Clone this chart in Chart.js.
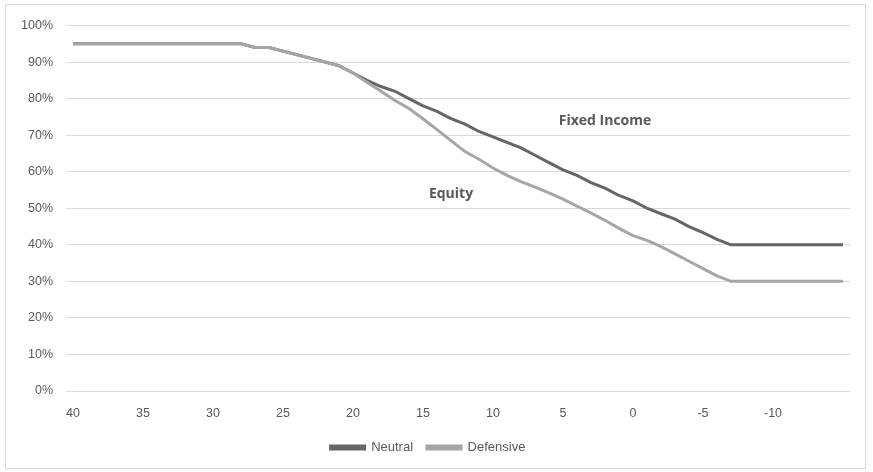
<!DOCTYPE html>
<html>
<head>
<meta charset="utf-8">
<script src="https://cdn.jsdelivr.net/npm/chart.js@4.4.1/dist/chart.umd.min.js"></script>
<style>
  html, body { margin: 0; padding: 0; background: #fff; }
  #wrap {
    position: absolute; left: 5px; top: 4px;
    width: 859px; height: 463px;
    border: 1px solid #d9d9d9;
  }
</style>
</head>
<body>
<div id="wrap"><canvas id="chart"></canvas></div>
<script>
// years to retirement, 40 down to -15
const categories = ['40','39','38','37','36','35','34','33','32','31','30','29','28','27','26','25','24','23','22','21',
  '20','19','18','17','16','15','14','13','12','11','10','9','8','7','6','5','4','3','2','1',
  '0','-1','-2','-3','-4','-5','-6','-7','-8','-9','-10','-11','-12','-13','-14','-15'];
const tickLabels = ['40','35','30','25','20','15','10','5','0','-5','-10'];

// equity share in %
const neutral = [95,95,95,95,95,95,95,95,95,95,95,95,95,94,94,93,92,91,90,89,
  87,85,83.3,82,80,78,76.5,74.5,73,71,69.5,68,66.5,64.5,62.5,60.5,59,57,55.5,53.5,
  52,50,48.5,47,45,43.3,41.5,40,40,40,40,40,40,40,40,40];
const defensive = [95,95,95,95,95,95,95,95,95,95,95,95,95,94,94,93,92,91,90,89,
  87,84.5,82,79.5,77.3,74.5,71.5,68.5,65.5,63.4,61,59,57.3,55.8,54.2,52.5,50.6,48.7,46.7,44.5,
  42.5,41.2,39.5,37.5,35.5,33.5,31.5,30,30,30,30,30,30,30,30,30];

// area labels: [text, category, value]
const areaLabels = [
  ['Fixed Income', '2', 73.9],
  ['Equity', '13', 53.8]
];

const textColor = '#595959';
const gridColor = '#d9d9d9';

const areaLabelPlugin = {
  id: 'areaLabels',
  afterDatasetsDraw(chart) {
    const { ctx, scales } = chart;
    ctx.save();
    ctx.font = 'bold 14px "Open Sans", sans-serif';
    ctx.fillStyle = textColor;
    ctx.textAlign = 'center';
    ctx.textBaseline = 'middle';
    areaLabels.forEach(([txt, cat, val]) => {
      const x = scales.x.getPixelForValue(categories.indexOf(cat));
      const y = scales.y.getPixelForValue(val);
      ctx.fillText(txt, x, y);
    });
    ctx.restore();
  }
};

// Defensive listed first so it is painted on top; legend reversed back
new Chart(document.getElementById('chart'), {
  type: 'line',
  data: {
    labels: categories,
    datasets: [
      { label: 'Defensive', data: defensive, borderColor: '#a6a6a6', backgroundColor: '#a6a6a6',
        borderWidth: 3, pointRadius: 0, tension: 0 },
      { label: 'Neutral', data: neutral, borderColor: '#666666', backgroundColor: '#666666',
        borderWidth: 3, pointRadius: 0, tension: 0 }
    ]
  },
  options: {
    responsive: true,
    maintainAspectRatio: false,
    animation: false,
    layout: { padding: { top: 12, right: 15, left: 0, bottom: 4 } },
    plugins: {
      legend: {
        position: 'bottom',
        reverse: true,
        labels: {
          color: textColor,
          font: { family: 'Liberation Sans', size: 13 },
          boxWidth: 34,
          boxHeight: 3,
          padding: 14
        }
      },
      tooltip: { enabled: false }
    },
    scales: {
      x: {
        offset: true,
        grid: { display: false },
        border: { display: false },
        ticks: {
          color: textColor,
          font: { family: 'Liberation Sans', size: 12.5 },
          autoSkip: false,
          maxRotation: 0,
          padding: 7,
          callback(v, i) {
            const l = categories[i];
            return tickLabels.includes(l) ? l : null;
          }
        },
        afterFit(s) { s.height = 36; }
      },
      y: {
        min: 0,
        max: 100,
        grid: { color: gridColor, lineWidth: 1, drawTicks: false },
        border: { display: false },
        ticks: {
          stepSize: 10,
          color: textColor,
          font: { family: 'Liberation Sans', size: 12.5 },
          padding: 13,
          callback: v => v + '%'
        },
        afterFit(s) { s.width = 60; }
      }
    }
  },
  plugins: [areaLabelPlugin]
});
</script>
</body>
</html>
